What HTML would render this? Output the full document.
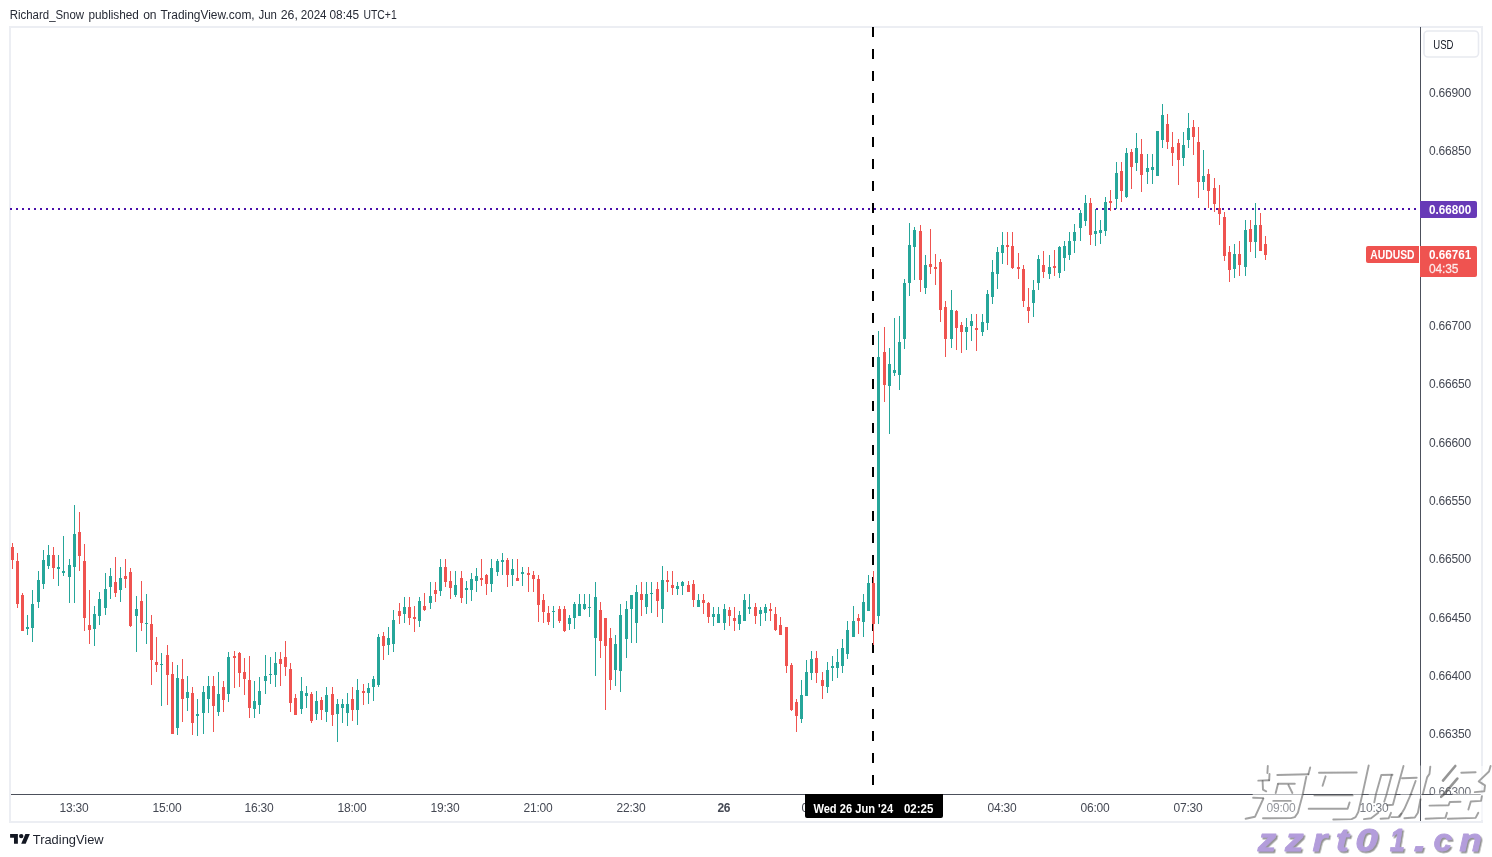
<!DOCTYPE html>
<html><head><meta charset="utf-8"><title>AUDUSD chart</title>
<style>html,body{margin:0;padding:0;background:#fff;}body{width:1492px;height:857px;overflow:hidden;font-family:"Liberation Sans",sans-serif;}svg{display:block;will-change:transform;}text{font-family:"Liberation Sans",sans-serif;}</style>
</head><body>
<svg width="1492" height="857" viewBox="0 0 1492 857">
<rect x="0" y="0" width="1492" height="857" fill="#ffffff"/>
<g font-size="12" fill="#262a35">
<text x="9.75" y="18.9" textLength="74.35" lengthAdjust="spacingAndGlyphs">Richard_Snow</text>
<text x="88.50" y="18.9" textLength="50.40" lengthAdjust="spacingAndGlyphs">published</text>
<text x="143.15" y="18.9" textLength="13.45" lengthAdjust="spacingAndGlyphs">on</text>
<text x="160.44" y="18.9" textLength="94.21" lengthAdjust="spacingAndGlyphs">TradingView.com,</text>
<text x="258.57" y="18.9" textLength="18.41" lengthAdjust="spacingAndGlyphs">Jun</text>
<text x="280.76" y="18.9" textLength="17.15" lengthAdjust="spacingAndGlyphs">26,</text>
<text x="300.72" y="18.9" textLength="25.84" lengthAdjust="spacingAndGlyphs">2024</text>
<text x="329.48" y="18.9" textLength="29.62" lengthAdjust="spacingAndGlyphs">08:45</text>
<text x="363.50" y="18.9" textLength="33.21" lengthAdjust="spacingAndGlyphs">UTC+1</text>
</g>
<g fill="#eceef3" shape-rendering="crispEdges">
<rect x="9" y="26" width="1474" height="2"/>
<rect x="9" y="821" width="1474" height="2"/>
<rect x="9" y="26" width="2" height="797"/>
<rect x="1481" y="26" width="2" height="797"/>
</g>
<g font-size="12" fill="#444853" text-anchor="middle">
<text x="59.55" y="812.4" text-anchor="start" textLength="29.1" lengthAdjust="spacing">13:30</text>
<text x="152.55" y="812.4" text-anchor="start" textLength="29.1" lengthAdjust="spacing">15:00</text>
<text x="244.55" y="812.4" text-anchor="start" textLength="29.1" lengthAdjust="spacing">16:30</text>
<text x="337.55" y="812.4" text-anchor="start" textLength="29.1" lengthAdjust="spacing">18:00</text>
<text x="430.55" y="812.4" text-anchor="start" textLength="29.1" lengthAdjust="spacing">19:30</text>
<text x="523.55" y="812.4" text-anchor="start" textLength="29.1" lengthAdjust="spacing">21:00</text>
<text x="616.55" y="812.4" text-anchor="start" textLength="29.1" lengthAdjust="spacing">22:30</text>
<text x="801.55" y="812.4" text-anchor="start" textLength="29.1" lengthAdjust="spacing">01:30</text>
<text x="894.55" y="812.4" text-anchor="start" textLength="29.1" lengthAdjust="spacing">03:00</text>
<text x="987.55" y="812.4" text-anchor="start" textLength="29.1" lengthAdjust="spacing">04:30</text>
<text x="1080.55" y="812.4" text-anchor="start" textLength="29.1" lengthAdjust="spacing">06:00</text>
<text x="1173.55" y="812.4" text-anchor="start" textLength="29.1" lengthAdjust="spacing">07:30</text>
<text x="1266.55" y="812.4" text-anchor="start" textLength="29.1" lengthAdjust="spacing">09:00</text>
<text x="1359.55" y="812.4" text-anchor="start" textLength="29.1" lengthAdjust="spacing">10:30</text>
<text x="717.60" y="812.4" text-anchor="start" font-weight="bold" textLength="12.8" lengthAdjust="spacing">26</text>
</g>
<g font-size="12" fill="#444853">
<clipPath id="pc"><rect x="1421" y="28" width="60" height="766"/></clipPath>
<g clip-path="url(#pc)">
<text x="1429" y="96.80" textLength="42.2" lengthAdjust="spacing">0.66900</text>
<text x="1429" y="155.10" textLength="42.2" lengthAdjust="spacing">0.66850</text>
<text x="1429" y="330.00" textLength="42.2" lengthAdjust="spacing">0.66700</text>
<text x="1429" y="388.30" textLength="42.2" lengthAdjust="spacing">0.66650</text>
<text x="1429" y="446.60" textLength="42.2" lengthAdjust="spacing">0.66600</text>
<text x="1429" y="504.90" textLength="42.2" lengthAdjust="spacing">0.66550</text>
<text x="1429" y="563.20" textLength="42.2" lengthAdjust="spacing">0.66500</text>
<text x="1429" y="621.50" textLength="42.2" lengthAdjust="spacing">0.66450</text>
<text x="1429" y="679.80" textLength="42.2" lengthAdjust="spacing">0.66400</text>
<text x="1429" y="738.10" textLength="42.2" lengthAdjust="spacing">0.66350</text>
<text x="1429" y="796.40" textLength="42.2" lengthAdjust="spacing">0.66300</text>
</g></g>
<g fill="#4c505b" shape-rendering="crispEdges">
<rect x="1420" y="27" width="1" height="794"/>
<rect x="11" y="794" width="1470" height="1"/>
</g>
<g fill="#4a10aa" shape-rendering="crispEdges">
<rect x="10" y="208" width="2" height="2"/>
<rect x="16" y="208" width="2" height="2"/>
<rect x="22" y="208" width="2" height="2"/>
<rect x="28" y="208" width="2" height="2"/>
<rect x="34" y="208" width="2" height="2"/>
<rect x="40" y="208" width="2" height="2"/>
<rect x="46" y="208" width="2" height="2"/>
<rect x="52" y="208" width="2" height="2"/>
<rect x="58" y="208" width="2" height="2"/>
<rect x="64" y="208" width="2" height="2"/>
<rect x="70" y="208" width="2" height="2"/>
<rect x="76" y="208" width="2" height="2"/>
<rect x="82" y="208" width="2" height="2"/>
<rect x="88" y="208" width="2" height="2"/>
<rect x="94" y="208" width="2" height="2"/>
<rect x="100" y="208" width="2" height="2"/>
<rect x="106" y="208" width="2" height="2"/>
<rect x="112" y="208" width="2" height="2"/>
<rect x="118" y="208" width="2" height="2"/>
<rect x="124" y="208" width="2" height="2"/>
<rect x="130" y="208" width="2" height="2"/>
<rect x="136" y="208" width="2" height="2"/>
<rect x="142" y="208" width="2" height="2"/>
<rect x="148" y="208" width="2" height="2"/>
<rect x="154" y="208" width="2" height="2"/>
<rect x="160" y="208" width="2" height="2"/>
<rect x="166" y="208" width="2" height="2"/>
<rect x="172" y="208" width="2" height="2"/>
<rect x="178" y="208" width="2" height="2"/>
<rect x="184" y="208" width="2" height="2"/>
<rect x="190" y="208" width="2" height="2"/>
<rect x="196" y="208" width="2" height="2"/>
<rect x="202" y="208" width="2" height="2"/>
<rect x="208" y="208" width="2" height="2"/>
<rect x="214" y="208" width="2" height="2"/>
<rect x="220" y="208" width="2" height="2"/>
<rect x="226" y="208" width="2" height="2"/>
<rect x="232" y="208" width="2" height="2"/>
<rect x="238" y="208" width="2" height="2"/>
<rect x="244" y="208" width="2" height="2"/>
<rect x="250" y="208" width="2" height="2"/>
<rect x="256" y="208" width="2" height="2"/>
<rect x="262" y="208" width="2" height="2"/>
<rect x="268" y="208" width="2" height="2"/>
<rect x="274" y="208" width="2" height="2"/>
<rect x="280" y="208" width="2" height="2"/>
<rect x="286" y="208" width="2" height="2"/>
<rect x="292" y="208" width="2" height="2"/>
<rect x="298" y="208" width="2" height="2"/>
<rect x="304" y="208" width="2" height="2"/>
<rect x="310" y="208" width="2" height="2"/>
<rect x="316" y="208" width="2" height="2"/>
<rect x="322" y="208" width="2" height="2"/>
<rect x="328" y="208" width="2" height="2"/>
<rect x="334" y="208" width="2" height="2"/>
<rect x="340" y="208" width="2" height="2"/>
<rect x="346" y="208" width="2" height="2"/>
<rect x="352" y="208" width="2" height="2"/>
<rect x="358" y="208" width="2" height="2"/>
<rect x="364" y="208" width="2" height="2"/>
<rect x="370" y="208" width="2" height="2"/>
<rect x="376" y="208" width="2" height="2"/>
<rect x="382" y="208" width="2" height="2"/>
<rect x="388" y="208" width="2" height="2"/>
<rect x="394" y="208" width="2" height="2"/>
<rect x="400" y="208" width="2" height="2"/>
<rect x="406" y="208" width="2" height="2"/>
<rect x="412" y="208" width="2" height="2"/>
<rect x="418" y="208" width="2" height="2"/>
<rect x="424" y="208" width="2" height="2"/>
<rect x="430" y="208" width="2" height="2"/>
<rect x="436" y="208" width="2" height="2"/>
<rect x="442" y="208" width="2" height="2"/>
<rect x="448" y="208" width="2" height="2"/>
<rect x="454" y="208" width="2" height="2"/>
<rect x="460" y="208" width="2" height="2"/>
<rect x="466" y="208" width="2" height="2"/>
<rect x="472" y="208" width="2" height="2"/>
<rect x="478" y="208" width="2" height="2"/>
<rect x="484" y="208" width="2" height="2"/>
<rect x="490" y="208" width="2" height="2"/>
<rect x="496" y="208" width="2" height="2"/>
<rect x="502" y="208" width="2" height="2"/>
<rect x="508" y="208" width="2" height="2"/>
<rect x="514" y="208" width="2" height="2"/>
<rect x="520" y="208" width="2" height="2"/>
<rect x="526" y="208" width="2" height="2"/>
<rect x="532" y="208" width="2" height="2"/>
<rect x="538" y="208" width="2" height="2"/>
<rect x="544" y="208" width="2" height="2"/>
<rect x="550" y="208" width="2" height="2"/>
<rect x="556" y="208" width="2" height="2"/>
<rect x="562" y="208" width="2" height="2"/>
<rect x="568" y="208" width="2" height="2"/>
<rect x="574" y="208" width="2" height="2"/>
<rect x="580" y="208" width="2" height="2"/>
<rect x="586" y="208" width="2" height="2"/>
<rect x="592" y="208" width="2" height="2"/>
<rect x="598" y="208" width="2" height="2"/>
<rect x="604" y="208" width="2" height="2"/>
<rect x="610" y="208" width="2" height="2"/>
<rect x="616" y="208" width="2" height="2"/>
<rect x="622" y="208" width="2" height="2"/>
<rect x="628" y="208" width="2" height="2"/>
<rect x="634" y="208" width="2" height="2"/>
<rect x="640" y="208" width="2" height="2"/>
<rect x="646" y="208" width="2" height="2"/>
<rect x="652" y="208" width="2" height="2"/>
<rect x="658" y="208" width="2" height="2"/>
<rect x="664" y="208" width="2" height="2"/>
<rect x="670" y="208" width="2" height="2"/>
<rect x="676" y="208" width="2" height="2"/>
<rect x="682" y="208" width="2" height="2"/>
<rect x="688" y="208" width="2" height="2"/>
<rect x="694" y="208" width="2" height="2"/>
<rect x="700" y="208" width="2" height="2"/>
<rect x="706" y="208" width="2" height="2"/>
<rect x="712" y="208" width="2" height="2"/>
<rect x="718" y="208" width="2" height="2"/>
<rect x="724" y="208" width="2" height="2"/>
<rect x="730" y="208" width="2" height="2"/>
<rect x="736" y="208" width="2" height="2"/>
<rect x="742" y="208" width="2" height="2"/>
<rect x="748" y="208" width="2" height="2"/>
<rect x="754" y="208" width="2" height="2"/>
<rect x="760" y="208" width="2" height="2"/>
<rect x="766" y="208" width="2" height="2"/>
<rect x="772" y="208" width="2" height="2"/>
<rect x="778" y="208" width="2" height="2"/>
<rect x="784" y="208" width="2" height="2"/>
<rect x="790" y="208" width="2" height="2"/>
<rect x="796" y="208" width="2" height="2"/>
<rect x="802" y="208" width="2" height="2"/>
<rect x="808" y="208" width="2" height="2"/>
<rect x="814" y="208" width="2" height="2"/>
<rect x="820" y="208" width="2" height="2"/>
<rect x="826" y="208" width="2" height="2"/>
<rect x="832" y="208" width="2" height="2"/>
<rect x="838" y="208" width="2" height="2"/>
<rect x="844" y="208" width="2" height="2"/>
<rect x="850" y="208" width="2" height="2"/>
<rect x="856" y="208" width="2" height="2"/>
<rect x="862" y="208" width="2" height="2"/>
<rect x="868" y="208" width="2" height="2"/>
<rect x="874" y="208" width="2" height="2"/>
<rect x="880" y="208" width="2" height="2"/>
<rect x="886" y="208" width="2" height="2"/>
<rect x="892" y="208" width="2" height="2"/>
<rect x="898" y="208" width="2" height="2"/>
<rect x="904" y="208" width="2" height="2"/>
<rect x="910" y="208" width="2" height="2"/>
<rect x="916" y="208" width="2" height="2"/>
<rect x="922" y="208" width="2" height="2"/>
<rect x="928" y="208" width="2" height="2"/>
<rect x="934" y="208" width="2" height="2"/>
<rect x="940" y="208" width="2" height="2"/>
<rect x="946" y="208" width="2" height="2"/>
<rect x="952" y="208" width="2" height="2"/>
<rect x="958" y="208" width="2" height="2"/>
<rect x="964" y="208" width="2" height="2"/>
<rect x="970" y="208" width="2" height="2"/>
<rect x="976" y="208" width="2" height="2"/>
<rect x="982" y="208" width="2" height="2"/>
<rect x="988" y="208" width="2" height="2"/>
<rect x="994" y="208" width="2" height="2"/>
<rect x="1000" y="208" width="2" height="2"/>
<rect x="1006" y="208" width="2" height="2"/>
<rect x="1012" y="208" width="2" height="2"/>
<rect x="1018" y="208" width="2" height="2"/>
<rect x="1024" y="208" width="2" height="2"/>
<rect x="1030" y="208" width="2" height="2"/>
<rect x="1036" y="208" width="2" height="2"/>
<rect x="1042" y="208" width="2" height="2"/>
<rect x="1048" y="208" width="2" height="2"/>
<rect x="1054" y="208" width="2" height="2"/>
<rect x="1060" y="208" width="2" height="2"/>
<rect x="1066" y="208" width="2" height="2"/>
<rect x="1072" y="208" width="2" height="2"/>
<rect x="1078" y="208" width="2" height="2"/>
<rect x="1084" y="208" width="2" height="2"/>
<rect x="1090" y="208" width="2" height="2"/>
<rect x="1096" y="208" width="2" height="2"/>
<rect x="1102" y="208" width="2" height="2"/>
<rect x="1108" y="208" width="2" height="2"/>
<rect x="1114" y="208" width="2" height="2"/>
<rect x="1120" y="208" width="2" height="2"/>
<rect x="1126" y="208" width="2" height="2"/>
<rect x="1132" y="208" width="2" height="2"/>
<rect x="1138" y="208" width="2" height="2"/>
<rect x="1144" y="208" width="2" height="2"/>
<rect x="1150" y="208" width="2" height="2"/>
<rect x="1156" y="208" width="2" height="2"/>
<rect x="1162" y="208" width="2" height="2"/>
<rect x="1168" y="208" width="2" height="2"/>
<rect x="1174" y="208" width="2" height="2"/>
<rect x="1180" y="208" width="2" height="2"/>
<rect x="1186" y="208" width="2" height="2"/>
<rect x="1192" y="208" width="2" height="2"/>
<rect x="1198" y="208" width="2" height="2"/>
<rect x="1204" y="208" width="2" height="2"/>
<rect x="1210" y="208" width="2" height="2"/>
<rect x="1216" y="208" width="2" height="2"/>
<rect x="1222" y="208" width="2" height="2"/>
<rect x="1228" y="208" width="2" height="2"/>
<rect x="1234" y="208" width="2" height="2"/>
<rect x="1240" y="208" width="2" height="2"/>
<rect x="1246" y="208" width="2" height="2"/>
<rect x="1252" y="208" width="2" height="2"/>
<rect x="1258" y="208" width="2" height="2"/>
<rect x="1264" y="208" width="2" height="2"/>
<rect x="1270" y="208" width="2" height="2"/>
<rect x="1276" y="208" width="2" height="2"/>
<rect x="1282" y="208" width="2" height="2"/>
<rect x="1288" y="208" width="2" height="2"/>
<rect x="1294" y="208" width="2" height="2"/>
<rect x="1300" y="208" width="2" height="2"/>
<rect x="1306" y="208" width="2" height="2"/>
<rect x="1312" y="208" width="2" height="2"/>
<rect x="1318" y="208" width="2" height="2"/>
<rect x="1324" y="208" width="2" height="2"/>
<rect x="1330" y="208" width="2" height="2"/>
<rect x="1336" y="208" width="2" height="2"/>
<rect x="1342" y="208" width="2" height="2"/>
<rect x="1348" y="208" width="2" height="2"/>
<rect x="1354" y="208" width="2" height="2"/>
<rect x="1360" y="208" width="2" height="2"/>
<rect x="1366" y="208" width="2" height="2"/>
<rect x="1372" y="208" width="2" height="2"/>
<rect x="1378" y="208" width="2" height="2"/>
<rect x="1384" y="208" width="2" height="2"/>
<rect x="1390" y="208" width="2" height="2"/>
<rect x="1396" y="208" width="2" height="2"/>
<rect x="1402" y="208" width="2" height="2"/>
<rect x="1408" y="208" width="2" height="2"/>
<rect x="1414" y="208" width="2" height="2"/>
</g>
<g fill="#000000" shape-rendering="crispEdges">
<rect x="872" y="27" width="2" height="10"/>
<rect x="872" y="49" width="2" height="10"/>
<rect x="872" y="71" width="2" height="10"/>
<rect x="872" y="93" width="2" height="10"/>
<rect x="872" y="115" width="2" height="10"/>
<rect x="872" y="137" width="2" height="10"/>
<rect x="872" y="159" width="2" height="10"/>
<rect x="872" y="181" width="2" height="10"/>
<rect x="872" y="203" width="2" height="10"/>
<rect x="872" y="225" width="2" height="10"/>
<rect x="872" y="247" width="2" height="10"/>
<rect x="872" y="269" width="2" height="10"/>
<rect x="872" y="291" width="2" height="10"/>
<rect x="872" y="313" width="2" height="10"/>
<rect x="872" y="335" width="2" height="10"/>
<rect x="872" y="357" width="2" height="10"/>
<rect x="872" y="379" width="2" height="10"/>
<rect x="872" y="401" width="2" height="10"/>
<rect x="872" y="423" width="2" height="10"/>
<rect x="872" y="445" width="2" height="10"/>
<rect x="872" y="467" width="2" height="10"/>
<rect x="872" y="489" width="2" height="10"/>
<rect x="872" y="511" width="2" height="10"/>
<rect x="872" y="533" width="2" height="10"/>
<rect x="872" y="555" width="2" height="10"/>
<rect x="872" y="577" width="2" height="10"/>
<rect x="872" y="599" width="2" height="10"/>
<rect x="872" y="621" width="2" height="10"/>
<rect x="872" y="643" width="2" height="10"/>
<rect x="872" y="665" width="2" height="10"/>
<rect x="872" y="687" width="2" height="10"/>
<rect x="872" y="709" width="2" height="10"/>
<rect x="872" y="731" width="2" height="10"/>
<rect x="872" y="753" width="2" height="10"/>
<rect x="872" y="775" width="2" height="10"/>
</g>
<g shape-rendering="crispEdges">
<rect x="12" y="543" width="1" height="26" fill="#ef5350"/>
<rect x="11" y="547" width="3" height="13" fill="#ef5350"/>
<rect x="17" y="553" width="1" height="55" fill="#ef5350"/>
<rect x="16" y="561" width="3" height="43" fill="#ef5350"/>
<rect x="22" y="593" width="1" height="38" fill="#ef5350"/>
<rect x="21" y="595" width="3" height="36" fill="#ef5350"/>
<rect x="27" y="615" width="1" height="20" fill="#26a69a"/>
<rect x="26" y="627" width="3" height="2" fill="#26a69a"/>
<rect x="32" y="590" width="1" height="52" fill="#26a69a"/>
<rect x="31" y="604" width="3" height="24" fill="#26a69a"/>
<rect x="38" y="571" width="1" height="37" fill="#26a69a"/>
<rect x="37" y="580" width="3" height="22" fill="#26a69a"/>
<rect x="43" y="550" width="1" height="39" fill="#26a69a"/>
<rect x="42" y="560" width="3" height="24" fill="#26a69a"/>
<rect x="48" y="545" width="1" height="24" fill="#26a69a"/>
<rect x="47" y="555" width="3" height="11" fill="#26a69a"/>
<rect x="53" y="547" width="1" height="32" fill="#ef5350"/>
<rect x="52" y="555" width="3" height="13" fill="#ef5350"/>
<rect x="58" y="555" width="1" height="31" fill="#26a69a"/>
<rect x="57" y="567" width="3" height="2" fill="#26a69a"/>
<rect x="63" y="536" width="1" height="40" fill="#26a69a"/>
<rect x="62" y="571" width="3" height="2" fill="#26a69a"/>
<rect x="69" y="559" width="1" height="44" fill="#26a69a"/>
<rect x="68" y="565" width="3" height="12" fill="#26a69a"/>
<rect x="74" y="505" width="1" height="98" fill="#26a69a"/>
<rect x="73" y="534" width="3" height="33" fill="#26a69a"/>
<rect x="79" y="512" width="1" height="59" fill="#ef5350"/>
<rect x="78" y="532" width="3" height="24" fill="#ef5350"/>
<rect x="84" y="544" width="1" height="87" fill="#ef5350"/>
<rect x="83" y="561" width="3" height="57" fill="#ef5350"/>
<rect x="89" y="590" width="1" height="54" fill="#ef5350"/>
<rect x="88" y="625" width="3" height="5" fill="#ef5350"/>
<rect x="94" y="606" width="1" height="40" fill="#26a69a"/>
<rect x="93" y="614" width="3" height="15" fill="#26a69a"/>
<rect x="99" y="592" width="1" height="33" fill="#26a69a"/>
<rect x="98" y="599" width="3" height="17" fill="#26a69a"/>
<rect x="105" y="573" width="1" height="42" fill="#26a69a"/>
<rect x="104" y="589" width="3" height="19" fill="#26a69a"/>
<rect x="110" y="568" width="1" height="31" fill="#26a69a"/>
<rect x="109" y="576" width="3" height="11" fill="#26a69a"/>
<rect x="115" y="557" width="1" height="40" fill="#ef5350"/>
<rect x="114" y="582" width="3" height="11" fill="#ef5350"/>
<rect x="120" y="567" width="1" height="35" fill="#26a69a"/>
<rect x="119" y="578" width="3" height="12" fill="#26a69a"/>
<rect x="125" y="559" width="1" height="29" fill="#ef5350"/>
<rect x="124" y="576" width="3" height="3" fill="#ef5350"/>
<rect x="130" y="568" width="1" height="59" fill="#ef5350"/>
<rect x="129" y="572" width="3" height="54" fill="#ef5350"/>
<rect x="136" y="596" width="1" height="56" fill="#26a69a"/>
<rect x="135" y="609" width="3" height="7" fill="#26a69a"/>
<rect x="141" y="581" width="1" height="50" fill="#ef5350"/>
<rect x="140" y="601" width="3" height="22" fill="#ef5350"/>
<rect x="146" y="594" width="1" height="50" fill="#26a69a"/>
<rect x="145" y="623" width="3" height="1" fill="#26a69a"/>
<rect x="151" y="615" width="1" height="70" fill="#ef5350"/>
<rect x="150" y="624" width="3" height="36" fill="#ef5350"/>
<rect x="156" y="637" width="1" height="35" fill="#ef5350"/>
<rect x="155" y="662" width="3" height="3" fill="#ef5350"/>
<rect x="161" y="653" width="1" height="53" fill="#26a69a"/>
<rect x="160" y="664" width="3" height="1" fill="#26a69a"/>
<rect x="167" y="645" width="1" height="60" fill="#ef5350"/>
<rect x="166" y="655" width="3" height="20" fill="#ef5350"/>
<rect x="172" y="662" width="1" height="72" fill="#ef5350"/>
<rect x="171" y="674" width="3" height="60" fill="#ef5350"/>
<rect x="177" y="665" width="1" height="70" fill="#26a69a"/>
<rect x="176" y="678" width="3" height="50" fill="#26a69a"/>
<rect x="182" y="659" width="1" height="63" fill="#ef5350"/>
<rect x="181" y="679" width="3" height="20" fill="#ef5350"/>
<rect x="187" y="676" width="1" height="35" fill="#26a69a"/>
<rect x="186" y="692" width="3" height="6" fill="#26a69a"/>
<rect x="192" y="687" width="1" height="48" fill="#ef5350"/>
<rect x="191" y="693" width="3" height="30" fill="#ef5350"/>
<rect x="197" y="699" width="1" height="37" fill="#26a69a"/>
<rect x="196" y="714" width="3" height="2" fill="#26a69a"/>
<rect x="203" y="686" width="1" height="48" fill="#26a69a"/>
<rect x="202" y="692" width="3" height="21" fill="#26a69a"/>
<rect x="208" y="676" width="1" height="37" fill="#26a69a"/>
<rect x="207" y="686" width="3" height="13" fill="#26a69a"/>
<rect x="213" y="676" width="1" height="56" fill="#ef5350"/>
<rect x="212" y="686" width="3" height="20" fill="#ef5350"/>
<rect x="218" y="672" width="1" height="44" fill="#26a69a"/>
<rect x="217" y="694" width="3" height="18" fill="#26a69a"/>
<rect x="223" y="681" width="1" height="31" fill="#ef5350"/>
<rect x="222" y="687" width="3" height="13" fill="#ef5350"/>
<rect x="228" y="652" width="1" height="50" fill="#26a69a"/>
<rect x="227" y="657" width="3" height="37" fill="#26a69a"/>
<rect x="234" y="651" width="1" height="37" fill="#ef5350"/>
<rect x="233" y="656" width="3" height="2" fill="#ef5350"/>
<rect x="239" y="652" width="1" height="35" fill="#ef5350"/>
<rect x="238" y="653" width="3" height="20" fill="#ef5350"/>
<rect x="244" y="658" width="1" height="37" fill="#ef5350"/>
<rect x="243" y="672" width="3" height="7" fill="#ef5350"/>
<rect x="249" y="656" width="1" height="62" fill="#ef5350"/>
<rect x="248" y="680" width="3" height="28" fill="#ef5350"/>
<rect x="254" y="681" width="1" height="37" fill="#26a69a"/>
<rect x="253" y="701" width="3" height="8" fill="#26a69a"/>
<rect x="259" y="677" width="1" height="37" fill="#26a69a"/>
<rect x="258" y="691" width="3" height="14" fill="#26a69a"/>
<rect x="265" y="655" width="1" height="39" fill="#26a69a"/>
<rect x="264" y="676" width="3" height="5" fill="#26a69a"/>
<rect x="270" y="657" width="1" height="27" fill="#26a69a"/>
<rect x="269" y="674" width="3" height="1" fill="#26a69a"/>
<rect x="275" y="652" width="1" height="35" fill="#26a69a"/>
<rect x="274" y="663" width="3" height="12" fill="#26a69a"/>
<rect x="280" y="652" width="1" height="34" fill="#ef5350"/>
<rect x="279" y="659" width="3" height="5" fill="#ef5350"/>
<rect x="285" y="641" width="1" height="35" fill="#ef5350"/>
<rect x="284" y="657" width="3" height="10" fill="#ef5350"/>
<rect x="290" y="663" width="1" height="49" fill="#ef5350"/>
<rect x="289" y="669" width="3" height="34" fill="#ef5350"/>
<rect x="295" y="694" width="1" height="21" fill="#ef5350"/>
<rect x="294" y="698" width="3" height="17" fill="#ef5350"/>
<rect x="301" y="677" width="1" height="37" fill="#26a69a"/>
<rect x="300" y="691" width="3" height="18" fill="#26a69a"/>
<rect x="306" y="686" width="1" height="22" fill="#26a69a"/>
<rect x="305" y="693" width="3" height="3" fill="#26a69a"/>
<rect x="311" y="692" width="1" height="31" fill="#ef5350"/>
<rect x="310" y="694" width="3" height="27" fill="#ef5350"/>
<rect x="316" y="691" width="1" height="29" fill="#26a69a"/>
<rect x="315" y="701" width="3" height="13" fill="#26a69a"/>
<rect x="321" y="697" width="1" height="23" fill="#ef5350"/>
<rect x="320" y="700" width="3" height="10" fill="#ef5350"/>
<rect x="326" y="687" width="1" height="35" fill="#26a69a"/>
<rect x="325" y="695" width="3" height="17" fill="#26a69a"/>
<rect x="332" y="687" width="1" height="39" fill="#ef5350"/>
<rect x="331" y="694" width="3" height="21" fill="#ef5350"/>
<rect x="337" y="699" width="1" height="43" fill="#26a69a"/>
<rect x="336" y="704" width="3" height="10" fill="#26a69a"/>
<rect x="342" y="699" width="1" height="24" fill="#26a69a"/>
<rect x="341" y="704" width="3" height="4" fill="#26a69a"/>
<rect x="347" y="693" width="1" height="33" fill="#26a69a"/>
<rect x="346" y="704" width="3" height="9" fill="#26a69a"/>
<rect x="352" y="687" width="1" height="34" fill="#ef5350"/>
<rect x="351" y="699" width="3" height="11" fill="#ef5350"/>
<rect x="357" y="679" width="1" height="46" fill="#26a69a"/>
<rect x="356" y="690" width="3" height="20" fill="#26a69a"/>
<rect x="363" y="684" width="1" height="21" fill="#ef5350"/>
<rect x="362" y="691" width="3" height="2" fill="#ef5350"/>
<rect x="368" y="683" width="1" height="21" fill="#26a69a"/>
<rect x="367" y="688" width="3" height="5" fill="#26a69a"/>
<rect x="373" y="676" width="1" height="25" fill="#26a69a"/>
<rect x="372" y="679" width="3" height="8" fill="#26a69a"/>
<rect x="378" y="634" width="1" height="53" fill="#26a69a"/>
<rect x="377" y="637" width="3" height="48" fill="#26a69a"/>
<rect x="383" y="632" width="1" height="28" fill="#ef5350"/>
<rect x="382" y="636" width="3" height="10" fill="#ef5350"/>
<rect x="388" y="627" width="1" height="28" fill="#26a69a"/>
<rect x="387" y="638" width="3" height="7" fill="#26a69a"/>
<rect x="393" y="610" width="1" height="42" fill="#26a69a"/>
<rect x="392" y="620" width="3" height="24" fill="#26a69a"/>
<rect x="399" y="603" width="1" height="21" fill="#ef5350"/>
<rect x="398" y="611" width="3" height="5" fill="#ef5350"/>
<rect x="404" y="597" width="1" height="26" fill="#26a69a"/>
<rect x="403" y="607" width="3" height="7" fill="#26a69a"/>
<rect x="409" y="597" width="1" height="28" fill="#ef5350"/>
<rect x="408" y="607" width="3" height="11" fill="#ef5350"/>
<rect x="414" y="606" width="1" height="26" fill="#ef5350"/>
<rect x="413" y="617" width="3" height="2" fill="#ef5350"/>
<rect x="419" y="597" width="1" height="30" fill="#26a69a"/>
<rect x="418" y="601" width="3" height="20" fill="#26a69a"/>
<rect x="424" y="593" width="1" height="18" fill="#ef5350"/>
<rect x="423" y="606" width="3" height="4" fill="#ef5350"/>
<rect x="430" y="582" width="1" height="27" fill="#26a69a"/>
<rect x="429" y="596" width="3" height="7" fill="#26a69a"/>
<rect x="435" y="582" width="1" height="20" fill="#ef5350"/>
<rect x="434" y="590" width="3" height="4" fill="#ef5350"/>
<rect x="440" y="559" width="1" height="37" fill="#26a69a"/>
<rect x="439" y="567" width="3" height="24" fill="#26a69a"/>
<rect x="445" y="559" width="1" height="28" fill="#ef5350"/>
<rect x="444" y="567" width="3" height="15" fill="#ef5350"/>
<rect x="450" y="571" width="1" height="28" fill="#ef5350"/>
<rect x="449" y="581" width="3" height="7" fill="#ef5350"/>
<rect x="455" y="571" width="1" height="26" fill="#26a69a"/>
<rect x="454" y="585" width="3" height="10" fill="#26a69a"/>
<rect x="461" y="571" width="1" height="32" fill="#ef5350"/>
<rect x="460" y="578" width="3" height="20" fill="#ef5350"/>
<rect x="466" y="581" width="1" height="23" fill="#26a69a"/>
<rect x="465" y="588" width="3" height="2" fill="#26a69a"/>
<rect x="471" y="573" width="1" height="28" fill="#26a69a"/>
<rect x="470" y="579" width="3" height="11" fill="#26a69a"/>
<rect x="476" y="568" width="1" height="24" fill="#26a69a"/>
<rect x="475" y="576" width="3" height="5" fill="#26a69a"/>
<rect x="481" y="559" width="1" height="27" fill="#ef5350"/>
<rect x="480" y="578" width="3" height="2" fill="#ef5350"/>
<rect x="486" y="574" width="1" height="21" fill="#ef5350"/>
<rect x="485" y="575" width="3" height="9" fill="#ef5350"/>
<rect x="491" y="559" width="1" height="33" fill="#26a69a"/>
<rect x="490" y="568" width="3" height="16" fill="#26a69a"/>
<rect x="497" y="559" width="1" height="17" fill="#26a69a"/>
<rect x="496" y="561" width="3" height="11" fill="#26a69a"/>
<rect x="502" y="553" width="1" height="22" fill="#26a69a"/>
<rect x="501" y="560" width="3" height="2" fill="#26a69a"/>
<rect x="507" y="558" width="1" height="29" fill="#ef5350"/>
<rect x="506" y="560" width="3" height="15" fill="#ef5350"/>
<rect x="512" y="559" width="1" height="27" fill="#26a69a"/>
<rect x="511" y="569" width="3" height="6" fill="#26a69a"/>
<rect x="517" y="559" width="1" height="22" fill="#ef5350"/>
<rect x="516" y="578" width="3" height="3" fill="#ef5350"/>
<rect x="522" y="567" width="1" height="19" fill="#26a69a"/>
<rect x="521" y="572" width="3" height="2" fill="#26a69a"/>
<rect x="528" y="567" width="1" height="25" fill="#ef5350"/>
<rect x="527" y="573" width="3" height="2" fill="#ef5350"/>
<rect x="533" y="571" width="1" height="21" fill="#ef5350"/>
<rect x="532" y="575" width="3" height="4" fill="#ef5350"/>
<rect x="538" y="575" width="1" height="47" fill="#ef5350"/>
<rect x="537" y="579" width="3" height="26" fill="#ef5350"/>
<rect x="543" y="594" width="1" height="29" fill="#ef5350"/>
<rect x="542" y="600" width="3" height="12" fill="#ef5350"/>
<rect x="548" y="606" width="1" height="19" fill="#ef5350"/>
<rect x="547" y="613" width="3" height="9" fill="#ef5350"/>
<rect x="553" y="606" width="1" height="22" fill="#26a69a"/>
<rect x="552" y="611" width="3" height="1" fill="#26a69a"/>
<rect x="559" y="606" width="1" height="17" fill="#ef5350"/>
<rect x="558" y="609" width="3" height="12" fill="#ef5350"/>
<rect x="564" y="606" width="1" height="26" fill="#ef5350"/>
<rect x="563" y="609" width="3" height="22" fill="#ef5350"/>
<rect x="569" y="615" width="1" height="15" fill="#26a69a"/>
<rect x="568" y="618" width="3" height="6" fill="#26a69a"/>
<rect x="574" y="602" width="1" height="27" fill="#26a69a"/>
<rect x="573" y="604" width="3" height="14" fill="#26a69a"/>
<rect x="579" y="594" width="1" height="22" fill="#26a69a"/>
<rect x="578" y="604" width="3" height="12" fill="#26a69a"/>
<rect x="584" y="594" width="1" height="16" fill="#26a69a"/>
<rect x="583" y="604" width="3" height="5" fill="#26a69a"/>
<rect x="589" y="594" width="1" height="23" fill="#26a69a"/>
<rect x="588" y="607" width="3" height="1" fill="#26a69a"/>
<rect x="595" y="582" width="1" height="94" fill="#26a69a"/>
<rect x="594" y="597" width="3" height="41" fill="#26a69a"/>
<rect x="600" y="602" width="1" height="56" fill="#ef5350"/>
<rect x="599" y="610" width="3" height="31" fill="#ef5350"/>
<rect x="605" y="618" width="1" height="92" fill="#ef5350"/>
<rect x="604" y="618" width="3" height="28" fill="#ef5350"/>
<rect x="610" y="628" width="1" height="62" fill="#ef5350"/>
<rect x="609" y="638" width="3" height="42" fill="#ef5350"/>
<rect x="615" y="635" width="1" height="51" fill="#26a69a"/>
<rect x="614" y="644" width="3" height="26" fill="#26a69a"/>
<rect x="620" y="604" width="1" height="88" fill="#26a69a"/>
<rect x="619" y="615" width="3" height="56" fill="#26a69a"/>
<rect x="626" y="601" width="1" height="57" fill="#26a69a"/>
<rect x="625" y="609" width="3" height="30" fill="#26a69a"/>
<rect x="631" y="595" width="1" height="48" fill="#26a69a"/>
<rect x="630" y="595" width="3" height="14" fill="#26a69a"/>
<rect x="636" y="585" width="1" height="58" fill="#26a69a"/>
<rect x="635" y="592" width="3" height="31" fill="#26a69a"/>
<rect x="641" y="582" width="1" height="34" fill="#ef5350"/>
<rect x="640" y="594" width="3" height="6" fill="#ef5350"/>
<rect x="646" y="582" width="1" height="32" fill="#26a69a"/>
<rect x="645" y="594" width="3" height="13" fill="#26a69a"/>
<rect x="651" y="582" width="1" height="31" fill="#26a69a"/>
<rect x="650" y="593" width="3" height="1" fill="#26a69a"/>
<rect x="657" y="582" width="1" height="35" fill="#ef5350"/>
<rect x="656" y="589" width="3" height="12" fill="#ef5350"/>
<rect x="662" y="566" width="1" height="57" fill="#26a69a"/>
<rect x="661" y="580" width="3" height="29" fill="#26a69a"/>
<rect x="667" y="571" width="1" height="21" fill="#ef5350"/>
<rect x="666" y="580" width="3" height="2" fill="#ef5350"/>
<rect x="672" y="571" width="1" height="24" fill="#ef5350"/>
<rect x="671" y="585" width="3" height="3" fill="#ef5350"/>
<rect x="677" y="582" width="1" height="13" fill="#26a69a"/>
<rect x="676" y="586" width="3" height="3" fill="#26a69a"/>
<rect x="682" y="581" width="1" height="14" fill="#26a69a"/>
<rect x="681" y="582" width="3" height="4" fill="#26a69a"/>
<rect x="688" y="581" width="1" height="11" fill="#ef5350"/>
<rect x="687" y="585" width="3" height="7" fill="#ef5350"/>
<rect x="693" y="580" width="1" height="27" fill="#ef5350"/>
<rect x="692" y="584" width="3" height="16" fill="#ef5350"/>
<rect x="698" y="594" width="1" height="13" fill="#26a69a"/>
<rect x="697" y="600" width="3" height="7" fill="#26a69a"/>
<rect x="703" y="594" width="1" height="20" fill="#ef5350"/>
<rect x="702" y="600" width="3" height="3" fill="#ef5350"/>
<rect x="708" y="602" width="1" height="21" fill="#ef5350"/>
<rect x="707" y="603" width="3" height="14" fill="#ef5350"/>
<rect x="713" y="607" width="1" height="19" fill="#26a69a"/>
<rect x="712" y="614" width="3" height="3" fill="#26a69a"/>
<rect x="718" y="607" width="1" height="16" fill="#26a69a"/>
<rect x="717" y="614" width="3" height="9" fill="#26a69a"/>
<rect x="724" y="604" width="1" height="26" fill="#26a69a"/>
<rect x="723" y="609" width="3" height="14" fill="#26a69a"/>
<rect x="729" y="607" width="1" height="19" fill="#ef5350"/>
<rect x="728" y="610" width="3" height="6" fill="#ef5350"/>
<rect x="734" y="607" width="1" height="24" fill="#ef5350"/>
<rect x="733" y="618" width="3" height="3" fill="#ef5350"/>
<rect x="739" y="611" width="1" height="19" fill="#26a69a"/>
<rect x="738" y="615" width="3" height="9" fill="#26a69a"/>
<rect x="744" y="594" width="1" height="27" fill="#26a69a"/>
<rect x="743" y="600" width="3" height="21" fill="#26a69a"/>
<rect x="749" y="594" width="1" height="20" fill="#26a69a"/>
<rect x="748" y="607" width="3" height="2" fill="#26a69a"/>
<rect x="755" y="603" width="1" height="21" fill="#ef5350"/>
<rect x="754" y="607" width="3" height="9" fill="#ef5350"/>
<rect x="760" y="607" width="1" height="19" fill="#26a69a"/>
<rect x="759" y="610" width="3" height="4" fill="#26a69a"/>
<rect x="765" y="604" width="1" height="17" fill="#26a69a"/>
<rect x="764" y="607" width="3" height="6" fill="#26a69a"/>
<rect x="770" y="603" width="1" height="18" fill="#ef5350"/>
<rect x="769" y="609" width="3" height="2" fill="#ef5350"/>
<rect x="775" y="607" width="1" height="24" fill="#ef5350"/>
<rect x="774" y="614" width="3" height="16" fill="#ef5350"/>
<rect x="780" y="617" width="1" height="18" fill="#ef5350"/>
<rect x="779" y="625" width="3" height="10" fill="#ef5350"/>
<rect x="786" y="627" width="1" height="46" fill="#ef5350"/>
<rect x="785" y="627" width="3" height="39" fill="#ef5350"/>
<rect x="791" y="663" width="1" height="48" fill="#ef5350"/>
<rect x="790" y="665" width="3" height="45" fill="#ef5350"/>
<rect x="796" y="699" width="1" height="33" fill="#ef5350"/>
<rect x="795" y="702" width="3" height="14" fill="#ef5350"/>
<rect x="801" y="680" width="1" height="43" fill="#26a69a"/>
<rect x="800" y="695" width="3" height="24" fill="#26a69a"/>
<rect x="806" y="660" width="1" height="36" fill="#26a69a"/>
<rect x="805" y="672" width="3" height="24" fill="#26a69a"/>
<rect x="811" y="651" width="1" height="29" fill="#26a69a"/>
<rect x="810" y="659" width="3" height="14" fill="#26a69a"/>
<rect x="816" y="651" width="1" height="32" fill="#ef5350"/>
<rect x="815" y="658" width="3" height="15" fill="#ef5350"/>
<rect x="822" y="672" width="1" height="27" fill="#ef5350"/>
<rect x="821" y="680" width="3" height="6" fill="#ef5350"/>
<rect x="827" y="662" width="1" height="31" fill="#26a69a"/>
<rect x="826" y="670" width="3" height="17" fill="#26a69a"/>
<rect x="832" y="656" width="1" height="25" fill="#26a69a"/>
<rect x="831" y="666" width="3" height="2" fill="#26a69a"/>
<rect x="837" y="649" width="1" height="29" fill="#26a69a"/>
<rect x="836" y="662" width="3" height="6" fill="#26a69a"/>
<rect x="842" y="639" width="1" height="34" fill="#26a69a"/>
<rect x="841" y="648" width="3" height="18" fill="#26a69a"/>
<rect x="847" y="621" width="1" height="38" fill="#26a69a"/>
<rect x="846" y="630" width="3" height="24" fill="#26a69a"/>
<rect x="853" y="606" width="1" height="31" fill="#26a69a"/>
<rect x="852" y="621" width="3" height="16" fill="#26a69a"/>
<rect x="858" y="614" width="1" height="20" fill="#ef5350"/>
<rect x="857" y="618" width="3" height="3" fill="#ef5350"/>
<rect x="863" y="594" width="1" height="43" fill="#26a69a"/>
<rect x="862" y="602" width="3" height="20" fill="#26a69a"/>
<rect x="868" y="575" width="1" height="36" fill="#26a69a"/>
<rect x="867" y="583" width="3" height="28" fill="#26a69a"/>
<rect x="873" y="571" width="1" height="74" fill="#ef5350"/>
<rect x="872" y="583" width="3" height="41" fill="#ef5350"/>
<rect x="878" y="331" width="1" height="293" fill="#26a69a"/>
<rect x="877" y="357" width="3" height="259" fill="#26a69a"/>
<rect x="884" y="327" width="1" height="75" fill="#ef5350"/>
<rect x="883" y="352" width="3" height="33" fill="#ef5350"/>
<rect x="889" y="348" width="1" height="86" fill="#26a69a"/>
<rect x="888" y="364" width="3" height="22" fill="#26a69a"/>
<rect x="894" y="318" width="1" height="58" fill="#26a69a"/>
<rect x="893" y="370" width="3" height="3" fill="#26a69a"/>
<rect x="899" y="316" width="1" height="74" fill="#26a69a"/>
<rect x="898" y="342" width="3" height="33" fill="#26a69a"/>
<rect x="904" y="279" width="1" height="70" fill="#26a69a"/>
<rect x="903" y="283" width="3" height="56" fill="#26a69a"/>
<rect x="909" y="223" width="1" height="73" fill="#26a69a"/>
<rect x="908" y="245" width="3" height="38" fill="#26a69a"/>
<rect x="914" y="227" width="1" height="53" fill="#26a69a"/>
<rect x="913" y="230" width="3" height="17" fill="#26a69a"/>
<rect x="920" y="225" width="1" height="67" fill="#ef5350"/>
<rect x="919" y="231" width="3" height="49" fill="#ef5350"/>
<rect x="925" y="255" width="1" height="39" fill="#26a69a"/>
<rect x="924" y="265" width="3" height="23" fill="#26a69a"/>
<rect x="930" y="229" width="1" height="45" fill="#ef5350"/>
<rect x="929" y="264" width="3" height="3" fill="#ef5350"/>
<rect x="935" y="254" width="1" height="31" fill="#ef5350"/>
<rect x="934" y="267" width="3" height="2" fill="#ef5350"/>
<rect x="940" y="259" width="1" height="63" fill="#ef5350"/>
<rect x="939" y="262" width="3" height="48" fill="#ef5350"/>
<rect x="945" y="301" width="1" height="56" fill="#ef5350"/>
<rect x="944" y="307" width="3" height="32" fill="#ef5350"/>
<rect x="951" y="290" width="1" height="58" fill="#26a69a"/>
<rect x="950" y="310" width="3" height="29" fill="#26a69a"/>
<rect x="956" y="310" width="1" height="40" fill="#ef5350"/>
<rect x="955" y="311" width="3" height="17" fill="#ef5350"/>
<rect x="961" y="322" width="1" height="31" fill="#ef5350"/>
<rect x="960" y="325" width="3" height="7" fill="#ef5350"/>
<rect x="966" y="318" width="1" height="32" fill="#26a69a"/>
<rect x="965" y="327" width="3" height="5" fill="#26a69a"/>
<rect x="971" y="314" width="1" height="27" fill="#26a69a"/>
<rect x="970" y="321" width="3" height="5" fill="#26a69a"/>
<rect x="976" y="314" width="1" height="37" fill="#ef5350"/>
<rect x="975" y="328" width="3" height="2" fill="#ef5350"/>
<rect x="982" y="314" width="1" height="22" fill="#26a69a"/>
<rect x="981" y="322" width="3" height="10" fill="#26a69a"/>
<rect x="987" y="290" width="1" height="40" fill="#26a69a"/>
<rect x="986" y="294" width="3" height="29" fill="#26a69a"/>
<rect x="992" y="260" width="1" height="44" fill="#26a69a"/>
<rect x="991" y="272" width="3" height="25" fill="#26a69a"/>
<rect x="997" y="247" width="1" height="42" fill="#26a69a"/>
<rect x="996" y="252" width="3" height="22" fill="#26a69a"/>
<rect x="1002" y="232" width="1" height="32" fill="#26a69a"/>
<rect x="1001" y="245" width="3" height="8" fill="#26a69a"/>
<rect x="1007" y="232" width="1" height="33" fill="#ef5350"/>
<rect x="1006" y="245" width="3" height="2" fill="#ef5350"/>
<rect x="1012" y="232" width="1" height="37" fill="#ef5350"/>
<rect x="1011" y="246" width="3" height="22" fill="#ef5350"/>
<rect x="1018" y="253" width="1" height="26" fill="#ef5350"/>
<rect x="1017" y="267" width="3" height="2" fill="#ef5350"/>
<rect x="1023" y="265" width="1" height="42" fill="#ef5350"/>
<rect x="1022" y="269" width="3" height="32" fill="#ef5350"/>
<rect x="1028" y="288" width="1" height="35" fill="#ef5350"/>
<rect x="1027" y="307" width="3" height="4" fill="#ef5350"/>
<rect x="1033" y="280" width="1" height="37" fill="#26a69a"/>
<rect x="1032" y="290" width="3" height="13" fill="#26a69a"/>
<rect x="1038" y="255" width="1" height="35" fill="#26a69a"/>
<rect x="1037" y="259" width="3" height="24" fill="#26a69a"/>
<rect x="1043" y="251" width="1" height="27" fill="#ef5350"/>
<rect x="1042" y="265" width="3" height="7" fill="#ef5350"/>
<rect x="1049" y="255" width="1" height="24" fill="#26a69a"/>
<rect x="1048" y="267" width="3" height="7" fill="#26a69a"/>
<rect x="1054" y="250" width="1" height="26" fill="#ef5350"/>
<rect x="1053" y="266" width="3" height="2" fill="#ef5350"/>
<rect x="1059" y="246" width="1" height="32" fill="#26a69a"/>
<rect x="1058" y="247" width="3" height="26" fill="#26a69a"/>
<rect x="1064" y="241" width="1" height="30" fill="#26a69a"/>
<rect x="1063" y="246" width="3" height="12" fill="#26a69a"/>
<rect x="1069" y="232" width="1" height="28" fill="#26a69a"/>
<rect x="1068" y="241" width="3" height="14" fill="#26a69a"/>
<rect x="1074" y="224" width="1" height="29" fill="#26a69a"/>
<rect x="1073" y="232" width="3" height="9" fill="#26a69a"/>
<rect x="1080" y="210" width="1" height="31" fill="#26a69a"/>
<rect x="1079" y="213" width="3" height="15" fill="#26a69a"/>
<rect x="1085" y="195" width="1" height="31" fill="#26a69a"/>
<rect x="1084" y="203" width="3" height="18" fill="#26a69a"/>
<rect x="1090" y="198" width="1" height="47" fill="#ef5350"/>
<rect x="1089" y="203" width="3" height="32" fill="#ef5350"/>
<rect x="1095" y="209" width="1" height="37" fill="#26a69a"/>
<rect x="1094" y="231" width="3" height="3" fill="#26a69a"/>
<rect x="1100" y="220" width="1" height="24" fill="#26a69a"/>
<rect x="1099" y="230" width="3" height="3" fill="#26a69a"/>
<rect x="1105" y="197" width="1" height="39" fill="#26a69a"/>
<rect x="1104" y="202" width="3" height="29" fill="#26a69a"/>
<rect x="1110" y="190" width="1" height="21" fill="#ef5350"/>
<rect x="1109" y="201" width="3" height="2" fill="#ef5350"/>
<rect x="1116" y="162" width="1" height="47" fill="#26a69a"/>
<rect x="1115" y="173" width="3" height="26" fill="#26a69a"/>
<rect x="1121" y="162" width="1" height="40" fill="#ef5350"/>
<rect x="1120" y="171" width="3" height="20" fill="#ef5350"/>
<rect x="1126" y="148" width="1" height="50" fill="#26a69a"/>
<rect x="1125" y="153" width="3" height="44" fill="#26a69a"/>
<rect x="1131" y="149" width="1" height="40" fill="#ef5350"/>
<rect x="1130" y="152" width="3" height="15" fill="#ef5350"/>
<rect x="1136" y="133" width="1" height="38" fill="#26a69a"/>
<rect x="1135" y="148" width="3" height="15" fill="#26a69a"/>
<rect x="1141" y="139" width="1" height="53" fill="#ef5350"/>
<rect x="1140" y="154" width="3" height="21" fill="#ef5350"/>
<rect x="1147" y="154" width="1" height="30" fill="#26a69a"/>
<rect x="1146" y="168" width="3" height="4" fill="#26a69a"/>
<rect x="1152" y="154" width="1" height="30" fill="#26a69a"/>
<rect x="1151" y="167" width="3" height="3" fill="#26a69a"/>
<rect x="1157" y="131" width="1" height="45" fill="#26a69a"/>
<rect x="1156" y="131" width="3" height="45" fill="#26a69a"/>
<rect x="1162" y="104" width="1" height="44" fill="#26a69a"/>
<rect x="1161" y="115" width="3" height="25" fill="#26a69a"/>
<rect x="1167" y="114" width="1" height="35" fill="#ef5350"/>
<rect x="1166" y="124" width="3" height="18" fill="#ef5350"/>
<rect x="1172" y="132" width="1" height="34" fill="#ef5350"/>
<rect x="1171" y="147" width="3" height="6" fill="#ef5350"/>
<rect x="1178" y="139" width="1" height="46" fill="#ef5350"/>
<rect x="1177" y="143" width="3" height="17" fill="#ef5350"/>
<rect x="1183" y="132" width="1" height="34" fill="#26a69a"/>
<rect x="1182" y="145" width="3" height="13" fill="#26a69a"/>
<rect x="1188" y="113" width="1" height="35" fill="#26a69a"/>
<rect x="1187" y="128" width="3" height="12" fill="#26a69a"/>
<rect x="1193" y="120" width="1" height="35" fill="#ef5350"/>
<rect x="1192" y="127" width="3" height="10" fill="#ef5350"/>
<rect x="1198" y="127" width="1" height="71" fill="#ef5350"/>
<rect x="1197" y="142" width="3" height="40" fill="#ef5350"/>
<rect x="1203" y="150" width="1" height="40" fill="#26a69a"/>
<rect x="1202" y="176" width="3" height="6" fill="#26a69a"/>
<rect x="1208" y="169" width="1" height="39" fill="#ef5350"/>
<rect x="1207" y="174" width="3" height="17" fill="#ef5350"/>
<rect x="1214" y="178" width="1" height="34" fill="#ef5350"/>
<rect x="1213" y="188" width="3" height="16" fill="#ef5350"/>
<rect x="1219" y="185" width="1" height="40" fill="#ef5350"/>
<rect x="1218" y="208" width="3" height="6" fill="#ef5350"/>
<rect x="1224" y="212" width="1" height="49" fill="#ef5350"/>
<rect x="1223" y="217" width="3" height="39" fill="#ef5350"/>
<rect x="1229" y="246" width="1" height="36" fill="#ef5350"/>
<rect x="1228" y="252" width="3" height="18" fill="#ef5350"/>
<rect x="1234" y="244" width="1" height="34" fill="#26a69a"/>
<rect x="1233" y="254" width="3" height="15" fill="#26a69a"/>
<rect x="1239" y="241" width="1" height="35" fill="#ef5350"/>
<rect x="1238" y="254" width="3" height="11" fill="#ef5350"/>
<rect x="1245" y="220" width="1" height="56" fill="#26a69a"/>
<rect x="1244" y="230" width="3" height="37" fill="#26a69a"/>
<rect x="1250" y="220" width="1" height="32" fill="#ef5350"/>
<rect x="1249" y="229" width="3" height="13" fill="#ef5350"/>
<rect x="1255" y="203" width="1" height="55" fill="#26a69a"/>
<rect x="1254" y="225" width="3" height="17" fill="#26a69a"/>
<rect x="1260" y="213" width="1" height="38" fill="#ef5350"/>
<rect x="1259" y="225" width="3" height="26" fill="#ef5350"/>
<rect x="1265" y="236" width="1" height="24" fill="#ef5350"/>
<rect x="1264" y="244" width="3" height="11" fill="#ef5350"/>
</g>
<rect x="1424" y="31" width="54.5" height="26" rx="4" ry="4" fill="#ffffff" stroke="#e8eaf0" stroke-width="1.6"/>
<text x="1433.3" y="48.6" font-size="12" fill="#131722" textLength="20.2" lengthAdjust="spacingAndGlyphs">USD</text>
<path d="M1420 201H1475a2 2 0 0 1 2 2V216a2 2 0 0 1 -2 2H1420Z" fill="#673ab7"/>
<text x="1429" y="214" font-size="12" font-weight="bold" fill="#ffffff" textLength="42.2" lengthAdjust="spacingAndGlyphs">0.66800</text>
<path d="M1419 246V263H1368a2 2 0 0 1 -2 -2V248a2 2 0 0 1 2 -2Z" fill="#ef5350"/>
<text x="1370.3" y="258.8" font-size="12" font-weight="bold" fill="#ffffff" textLength="44.2" lengthAdjust="spacingAndGlyphs">AUDUSD</text>
<path d="M1420 246H1475a2 2 0 0 1 2 2V275a2 2 0 0 1 -2 2H1420Z" fill="#ef5350"/>
<text x="1429" y="259" font-size="12" font-weight="bold" fill="#ffffff" textLength="42.2" lengthAdjust="spacingAndGlyphs">0.66761</text>
<text x="1429" y="273" font-size="12" fill="#ffffff" fill-opacity="0.85" stroke="#ffffff" stroke-opacity="0.6" stroke-width="0.35" textLength="29.4" lengthAdjust="spacing">04:35</text>
<path d="M805 794H943V816a2 2 0 0 1 -2 2H807a2 2 0 0 1 -2 -2Z" fill="#000000"/>
<text x="813.4" y="812.9" font-size="12" font-weight="bold" fill="#ffffff" textLength="79.7" lengthAdjust="spacingAndGlyphs">Wed 26 Jun '24</text>
<text x="903.9" y="812.9" font-size="12" font-weight="bold" fill="#ffffff" textLength="29.4" lengthAdjust="spacingAndGlyphs">02:25</text>
<g transform="translate(10.1,831.7) scale(0.556,0.545)" fill="#131722">
<path d="M14 22H7V11H0V4h14v18z"/><circle cx="20" cy="8" r="4"/><path d="M28 22h-8l7.5-18h8L28 22z"/>
</g>
<text x="32.8" y="843.8" font-size="12.4" fill="#1e222d" textLength="70.8" lengthAdjust="spacingAndGlyphs">TradingView</text>
<defs><filter id="wb" x="-5%" y="-5%" width="110%" height="110%"><feGaussianBlur stdDeviation="0.45"/></filter>
<filter id="ts" x="-10%" y="-10%" width="120%" height="130%"><feDropShadow dx="1.5" dy="1.7" stdDeviation="0.35" flood-color="#777777" flood-opacity="0.8"/></filter></defs>
<g fill="#ffffff">
<rect x="1252.7" y="793.5" width="50.0" height="2" fill-opacity="0.6"/>
<rect x="1352.8" y="793.5" width="9.1" height="2" fill-opacity="0.5"/>
<rect x="1368.7" y="793.5" width="26.6" height="2" fill-opacity="0.45"/>
<rect x="1400.5" y="793.5" width="9.1" height="2" fill-opacity="0.45"/>
<rect x="1412.4" y="793.5" width="9.6" height="2" fill-opacity="0.45"/>
<rect x="1433.5" y="793.5" width="9.5" height="2" fill-opacity="0.45"/>
<rect x="1452.5" y="793.5" width="28.5" height="2" fill-opacity="0.5"/>
<rect x="1419.5" y="765.5" width="2" height="28" fill-opacity="0.35"/>
<rect x="1419.5" y="795" width="2" height="4" fill-opacity="0.35"/>
<rect x="1480.5" y="766" width="3" height="54" fill-opacity="0.55"/>
<rect x="1264" y="801" width="33" height="14" fill-opacity="0.42"/>
<rect x="1357" y="801" width="33" height="14" fill-opacity="0.28"/>
<rect x="1427" y="786" width="46" height="8" fill-opacity="0.22"/>
</g>
<g filter="url(#wb)" fill="none" stroke="#555555" stroke-opacity="0.55" stroke-width="1.9" stroke-linecap="round" stroke-linejoin="round">
<polyline points="1267.8,766.0 1267.4,773.0"/>
<polyline points="1277.3,775.0 1308.3,774.3"/>
<polyline points="1310.2,767.5 1308.4,774.3"/>
<polyline points="1258.3,780.6 1269.0,780.2"/>
<polyline points="1269.5,773.9 1269.2,780.2"/>
<polyline points="1262.6,781.0 1263.0,789.7 1266.2,791.3"/>
<polyline points="1278.1,783.8 1294.8,783.8"/>
<polyline points="1277.9,784.2 1275.7,793.0"/>
<polyline points="1288.4,785.0 1292.4,793.0"/>
<polyline points="1306.3,776.7 1302.7,794.5 1297.9,812.8 1294.8,817.1 1290.8,818.1 1263.0,818.3"/>
<polyline points="1273.3,800.9 1290.8,800.9"/>
<polyline points="1253.1,797.7 1263.0,798.1"/>
<polyline points="1263.4,798.5 1255.1,816.7 1245.6,818.7"/>
<polyline points="1319.0,772.7 1356.7,772.5"/>
<polyline points="1325.6,776.3 1322.6,785.8"/>
<polyline points="1314.5,795.4 1352.6,795.4"/>
<polyline points="1308.7,808.8 1347.6,808.8 1349.6,802.4"/>
<polyline points="1368.7,765.5 1362.7,793.0 1358.3,812.0 1355.6,817.1 1351.6,819.1 1333.3,819.5"/>
<polyline points="1374.3,802.4 1375.9,794.3 1381.3,775.0 1392.5,774.8"/>
<polyline points="1391.7,775.0 1386.6,794.3 1384.2,801.7"/>
<polyline points="1403.5,766.0 1395.7,794.3 1392.9,804.8 1387.0,805.2"/>
<polyline points="1402.0,778.2 1416.7,777.8"/>
<polyline points="1415.6,781.0 1410.8,794.3 1404.4,808.8 1399.7,816.7"/>
<polyline points="1364.0,819.1 1371.1,818.3 1378.3,812.8"/>
<polyline points="1380.6,818.7 1388.6,818.3 1391.0,812.8"/>
<polyline points="1391.3,817.1 1398.1,817.1 1401.3,813.6"/>
<polyline points="1404.4,818.3 1414.8,817.5 1417.9,812.8 1420.5,799.3"/>
<polyline points="1430.3,766.7 1429.5,773.9 1427.1,777.4 1422.8,794.3"/>
<polyline points="1461.3,772.7 1475.6,772.3"/>
<polyline points="1490.6,766.0 1489.0,771.5 1478.7,781.4 1485.0,785.4 1484.3,791.3 1474.8,792.1"/>
<polyline points="1429.5,805.6 1448.6,805.2 1449.8,802.0 1460.5,801.7"/>
<polyline points="1481.9,796.1 1481.1,800.9 1470.8,801.5 1468.4,809.6"/>
<polyline points="1425.6,818.7 1445.4,817.9 1447.0,812.8"/>
<polyline points="1447.8,818.7 1475.6,817.9 1478.3,812.8"/>
</g>
<g filter="url(#wb)" fill="none" stroke="#505050" stroke-opacity="0.6" stroke-width="2.6" stroke-linecap="round" stroke-linejoin="round">
<polyline points="1455.3,766.0 1443.0,780.6"/>
<polyline points="1457.3,778.6 1443.8,794.3 1441.0,796.9"/>
</g>
<g filter="url(#ts)" font-size="32" font-weight="bold" font-style="italic" fill="#b39ddb" stroke="#b39ddb" stroke-width="0.8" stroke-linejoin="round">
<text x="1257.80" y="851.4" textLength="18.52" lengthAdjust="spacingAndGlyphs">z</text>
<text x="1285.00" y="851.4" textLength="18.60" lengthAdjust="spacingAndGlyphs">z</text>
<text x="1312.40" y="851.4" textLength="14.69" lengthAdjust="spacingAndGlyphs">r</text>
<text x="1335.80" y="851.4" textLength="13.03" lengthAdjust="spacingAndGlyphs">t</text>
<text x="1355.20" y="851.4" textLength="22.58" lengthAdjust="spacingAndGlyphs">0</text>
<text x="1389.80" y="851.4" textLength="15.11" lengthAdjust="spacingAndGlyphs">1</text>
<text x="1413.60" y="851.4" textLength="13.67" lengthAdjust="spacingAndGlyphs">.</text>
<text x="1433.60" y="851.4" textLength="18.54" lengthAdjust="spacingAndGlyphs">c</text>
<text x="1459.20" y="851.4" textLength="22.58" lengthAdjust="spacingAndGlyphs">n</text>
</g>
</svg>
</body></html>
